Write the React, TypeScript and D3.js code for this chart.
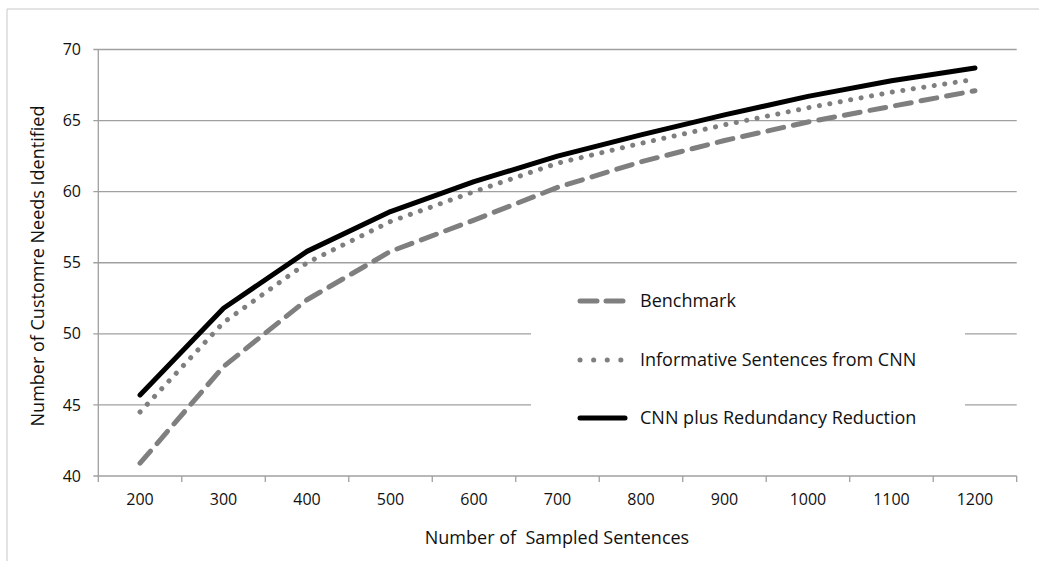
import React from "react";
import * as d3 from "d3";

const categories = [200, 300, 400, 500, 600, 700, 800, 900, 1000, 1100, 1200];
const benchmark = [40.9, 47.7, 52.4, 55.8, 58.0, 60.3, 62.1, 63.6, 64.9, 66.0, 67.1];
const informative = [44.5, 50.8, 55.0, 57.9, 60.0, 62.0, 63.4, 64.7, 65.9, 67.0, 67.9];
const cnnPlus = [45.7, 51.8, 55.8, 58.6, 60.7, 62.5, 64.0, 65.4, 66.7, 67.8, 68.7];
const yTicks = [40, 45, 50, 55, 60, 65, 70];
const seriesNames = ["Benchmark", "Informative Sentences from CNN", "CNN plus Redundancy Reduction"];

const W = 1039;
const H = 561;
const FONT = "'Open Sans', sans-serif";
const TEXT = "#111111";
const GRID = "#a0a0a0";

export default function App() {
  const x = d3.scaleBand<number>().domain(categories).range([98.3, 1016.7]).padding(0);
  const y = d3.scaleLinear().domain([40, 70]).range([476, 49.5]);
  const cx = (c: number) => (x(c) as number) + x.bandwidth() / 2;
  const line = d3
    .line<number>()
    .x((_, i) => cx(categories[i]))
    .y((v) => y(v));

  const styles = [
    { stroke: "#7f7f7f", width: 5, dash: "16 10", cap: "round" },
    { stroke: "#7f7f7f", width: 5, dash: "0.1 10.5", cap: "round" },
    { stroke: "#000000", width: 5, dash: undefined, cap: "round" },
  ];
  const legendDash = ["17 9", "0.1 13.5", undefined];
  const data = [benchmark, informative, cnnPlus];

  const boundaries = categories.map((c) => x(c) as number).concat([x.range()[1]]);
  const [x0, x1] = x.range();
  const legendY = [301, 360, 418];

  return (
    <svg
      width={W}
      height={H}
      style={{ position: "absolute", left: 0, top: 0, background: "#fff" }}
      fontFamily={FONT}
    >
      <rect x={0} y={0} width={W} height={H} fill="#fff" />
      {/* outer frame */}
      <line x1={7} y1={9} x2={W} y2={9} stroke="#c8c8c8" strokeWidth={1} />
      <line x1={7} y1={9} x2={7} y2={H} stroke="#c8c8c8" strokeWidth={1} />

      {/* gridlines */}
      {yTicks.map((t) => (
        <line key={t} x1={x0 - 5} x2={x1} y1={y(t)} y2={y(t)} stroke={GRID} strokeWidth={1.3} />
      ))}
      {/* y axis */}
      <line x1={x0} x2={x0} y1={y(70)} y2={y(40)} stroke={GRID} strokeWidth={1.3} />
      {yTicks.map((t) => (
        <text key={t} x={81} y={y(t)} dy="0.35em" textAnchor="end" fontSize={16} fill={TEXT}>
          {t}
        </text>
      ))}
      {/* x axis ticks */}
      {boundaries.map((b, i) => (
        <line key={i} x1={b} x2={b} y1={y(40)} y2={y(40) + 6} stroke={GRID} strokeWidth={1.3} />
      ))}
      {categories.map((c) => (
        <text key={c} x={cx(c)} y={499} dy="0.35em" textAnchor="middle" fontSize={16} fill={TEXT}>
          {c}
        </text>
      ))}

      {/* series */}
      {data.map((d, i) => (
        <path
          key={i}
          d={line(d) as string}
          fill="none"
          stroke={styles[i].stroke}
          strokeWidth={styles[i].width}
          strokeDasharray={styles[i].dash}
          strokeLinecap={styles[i].cap as any}
          strokeLinejoin="round"
        />
      ))}

      {/* legend */}
      <rect x={531} y={276} width={434} height={164} fill="#fff" />
      {seriesNames.map((n, i) => (
        <g key={n}>
          <line
            x1={580}
            x2={i === 1 ? 622 : 625}
            y1={legendY[i]}
            y2={legendY[i]}
            stroke={styles[i].stroke}
            strokeWidth={styles[i].width}
            strokeDasharray={legendDash[i]}
            strokeLinecap={styles[i].cap as any}
          />
          <text x={640} y={legendY[i]} dy="0.35em" fontSize={18} fill={TEXT}>
            {n}
          </text>
        </g>
      ))}

      {/* axis titles */}
      <text x={557} y={538} dy="0.35em" textAnchor="middle" fontSize={18} fill={TEXT} style={{ whiteSpace: "pre" }}>
        {"Number of  Sampled Sentences"}
      </text>
      <text
        transform={`translate(38,266) rotate(-90)`}
        dy="0.35em"
        textAnchor="middle"
        fontSize={18}
        fill={TEXT}
      >
        Number of Customre Needs Identified
      </text>
    </svg>
  );
}
